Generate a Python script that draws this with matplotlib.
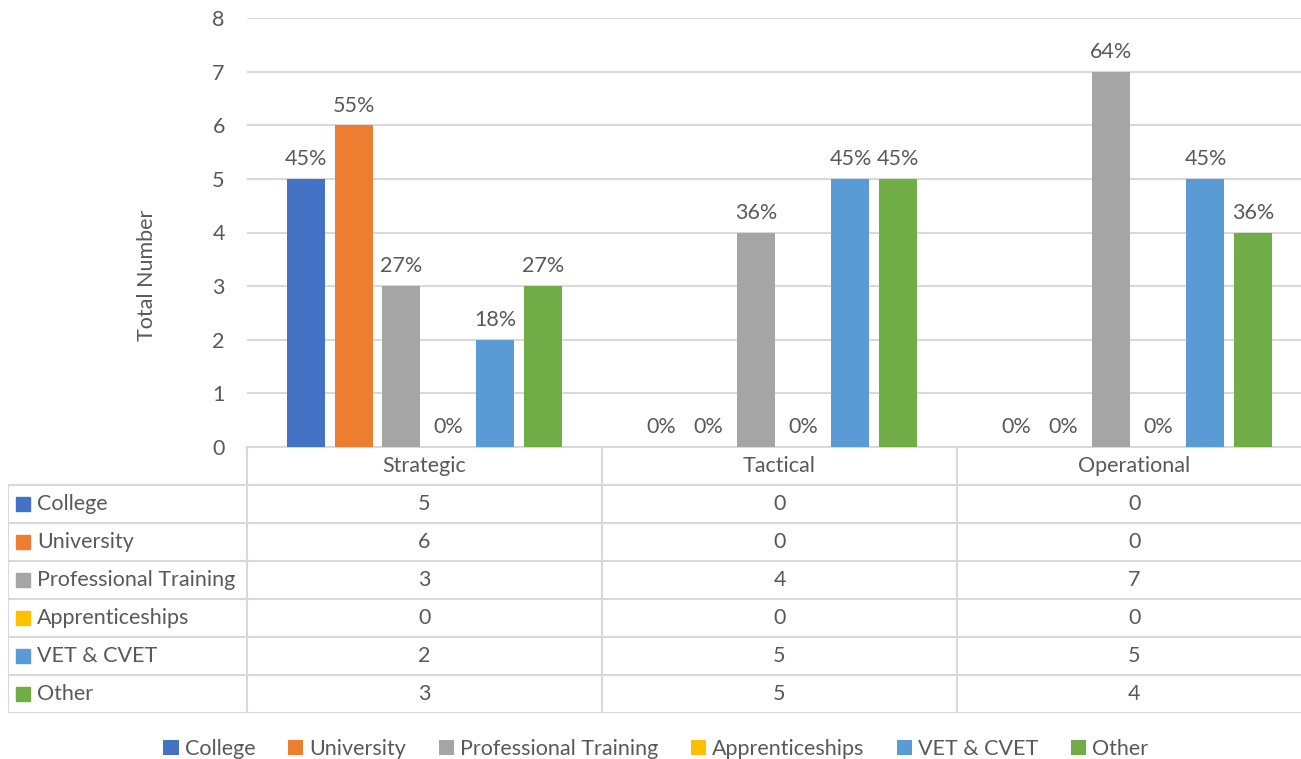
import numpy as np
import matplotlib
matplotlib.use("Agg")
import matplotlib.pyplot as plt
from matplotlib.patches import Patch

plt.rcParams['font.family'] = ['Lato', 'DejaVu Sans']

# data
categories = ["Strategic", "Tactical", "Operational"]
series = ["College", "University", "Professional Training", "Apprenticeships", "VET & CVET", "Other"]
college = [5, 0, 0]
university = [6, 0, 0]
professional = [3, 4, 7]
apprenticeships = [0, 0, 0]
vet_cvet = [2, 5, 5]
other = [3, 5, 4]
pct_labels = [
    ["45%", "0%", "0%"],
    ["55%", "0%", "0%"],
    ["27%", "36%", "64%"],
    ["0%", "0%", "0%"],
    ["18%", "45%", "45%"],
    ["27%", "45%", "36%"],
]
colors = ["#4472C4", "#ED7D31", "#A5A5A5", "#FFC000", "#5B9BD5", "#70AD47"]

values = [college, university, professional, apprenticeships, vet_cvet, other]

W, H = 1301, 759
TXT = "#595959"
GRID = "#D9D9D9"
FS = 15.5

fig = plt.figure(figsize=(W / 100, H / 100), dpi=100)

# main bar axes (extends a bit past the right edge like the original)
ax_l, ax_r = 247 / W, 1312 / W
ax_b, ax_t = 1 - 447 / H, 1 - 18 / H
ax = fig.add_axes([ax_l, ax_b, ax_r - ax_l, ax_t - ax_b])

x = np.arange(len(categories))
step = 0.1333
width = 0.107
for i, (vals, col) in enumerate(zip(values, colors)):
    pos = x + (i - 2.5) * step
    ax.bar(pos, vals, width, color=col, zorder=3)
    for p, v, lab in zip(pos, vals, pct_labels[i]):
        ax.annotate(lab, (p, v), xytext=(0, 7), textcoords="offset points",
                    ha="center", va="bottom", fontsize=FS, color=TXT)

ax.set_xlim(-0.5, 2.5)
ax.set_ylim(0, 8)
ax.set_yticks(range(9))
ax.set_xticks([])
ax.yaxis.grid(True, color=GRID, lw=1.5, zorder=0)
for s in ["top", "right", "left"]:
    ax.spines[s].set_visible(False)
ax.spines["bottom"].set_color(GRID)
ax.spines["bottom"].set_linewidth(1.5)
ax.tick_params(axis="y", length=0, pad=16, labelsize=FS, labelcolor=TXT)

fig.text(147 / W, 1 - 275 / H, "Total Number", rotation=90, ha="center", va="center",
         fontsize=FS, color=TXT)

# data table under the bars
tb_l = 8 / W
tb_b, tb_t = 1 - 713 / H, 1 - 447 / H
tax = fig.add_axes([tb_l, tb_b, ax_r - tb_l, tb_t - tb_b])
x_left = -0.5 - (247 - 8) / 355
tax.set_xlim(x_left, 2.5)
tax.set_ylim(7, 0)
tax.axis("off")

lw = 1.5
for r in range(1, 8):
    tax.plot([x_left, 2.5], [r, r], color=GRID, lw=lw, solid_capstyle="butt")
for xv in [-0.5, 0.5, 1.5]:
    tax.plot([xv, xv], [0, 7], color=GRID, lw=lw, solid_capstyle="butt")
tax.plot([x_left, x_left], [1, 7], color=GRID, lw=lw, solid_capstyle="butt")

for j, cat in enumerate(categories):
    tax.text(j, 0.5, cat, ha="center", va="center", fontsize=FS, color=TXT)

for i, (name, col, vals) in enumerate(zip(series, colors, values)):
    y = i + 1.5
    tax.plot(x_left + 15 / 355, y, marker="s", color=col, markersize=10.5, ls="none")
    tax.text(x_left + 29 / 355, y, name, ha="left", va="center", fontsize=FS, color=TXT)
    for j, v in enumerate(vals):
        tax.text(j, y, str(v), ha="center", va="center", fontsize=FS, color=TXT)

# legend at the bottom
handles = [Patch(facecolor=c, label=s) for s, c in zip(series, colors)]
fig.legend(handles=handles, loc="center", bbox_to_anchor=(656 / W, 1 - 749 / H), ncol=6,
           frameon=False, fontsize=FS, labelcolor=TXT, handlelength=0.7, handleheight=0.7,
           handletextpad=0.3, columnspacing=1.5, borderpad=0)

fig.savefig("out.png", dpi=100)
